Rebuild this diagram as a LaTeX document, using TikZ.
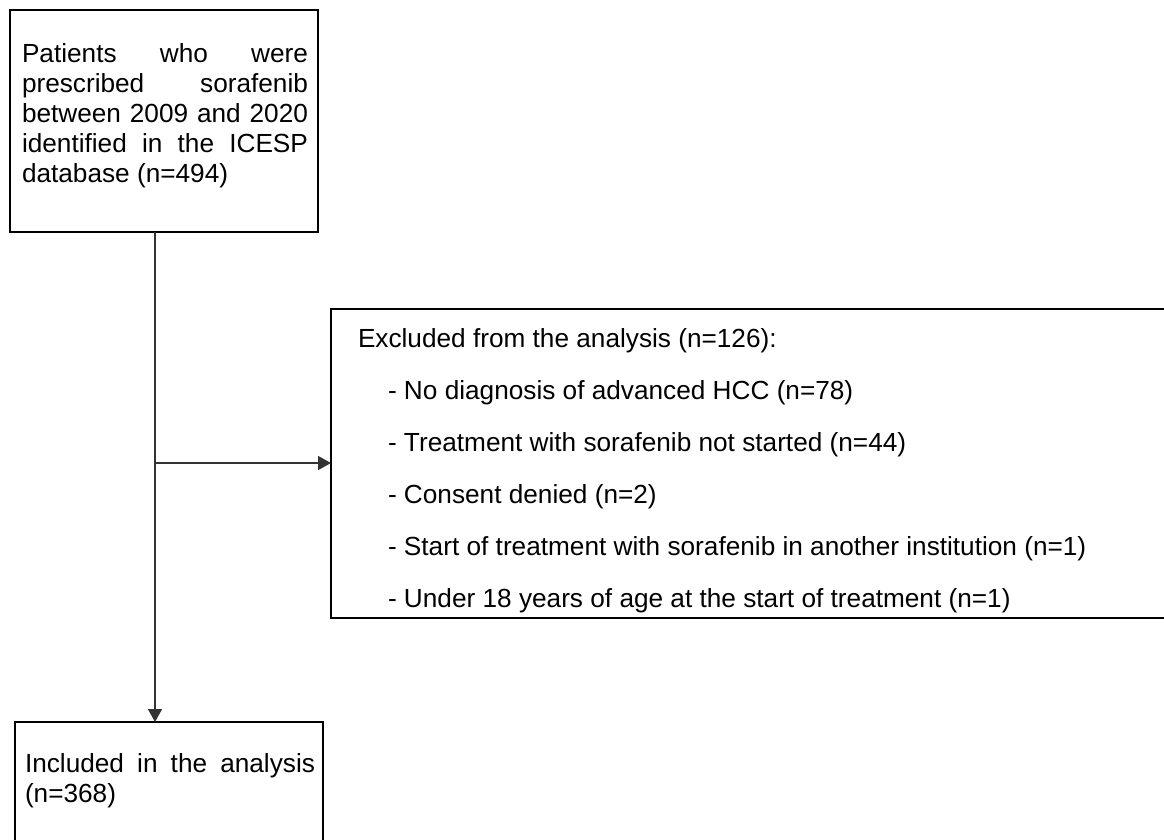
\documentclass[tikz,border=0pt]{standalone}
\usepackage{fontspec}
\setmainfont{Liberation Sans}
\usetikzlibrary{arrows.meta}
\begin{document}
\begin{tikzpicture}[x=1pt,y=-1pt,
  boxnode/.style={draw=black, line width=2.7pt, inner sep=0pt, outer sep=0pt, anchor=north west},
  txt/.style={anchor=base west, inner sep=0pt, outer sep=0pt, font=\fontsize{26.2}{30}\selectfont},
  conn/.style={draw=black!80, line width=1.5pt},
  arr/.style={conn, -{Triangle[length=13pt,width=14pt]}}]
\clip (0,0) rectangle (1164,839);
\fill[white] (0,0) rectangle (1164,839);
% top box
\node[boxnode, minimum width=308pt, minimum height=222pt] (top) at (10,10) {};
\node[txt] (t1) at (22,62) {\makebox[286pt][s]{Patients who were}};
\node[txt] (t2) at (22,92) {\makebox[286pt][s]{prescribed sorafenib}};
\node[txt] (t3) at (22,122) {\makebox[286pt][s]{between 2009 and 2020}};
\node[txt] (t4) at (22,152) {\makebox[286pt][s]{identified in the ICESP}};
\node[txt] (t5) at (22,182) {database (n=494)};
% exclusion box
\node[boxnode, minimum width=850pt, minimum height=309pt] (excl) at (331,309) {};
\node[txt] (e0) at (358,347) {Excluded from the analysis (n=126):};
\node[txt] (e1) at (388,399) {- No diagnosis of advanced HCC (n=78)};
\node[txt] (e2) at (388,451) {- Treatment with sorafenib not started (n=44)};
\node[txt] (e3) at (388,503) {- Consent denied (n=2)};
\node[txt] (e4) at (388,555) {- Start of treatment with sorafenib in another institution (n=1)};
\node[txt] (e5) at (388,607) {- Under 18 years of age at the start of treatment (n=1)};
% included box
\node[boxnode, minimum width=308pt, minimum height=140pt] (incl) at (15,722) {};
\node[txt] (i1) at (25,772) {\makebox[290pt][s]{Included in the analysis}};
\node[txt] (i2) at (25,802) {(n=368)};
% connectors
\coordinate (j) at (155,463);
\draw[arr] (j |- top.south) -- (j |- incl.north);
\draw[arr] (j) -- (j -| excl.west);
\end{tikzpicture}
\end{document}
